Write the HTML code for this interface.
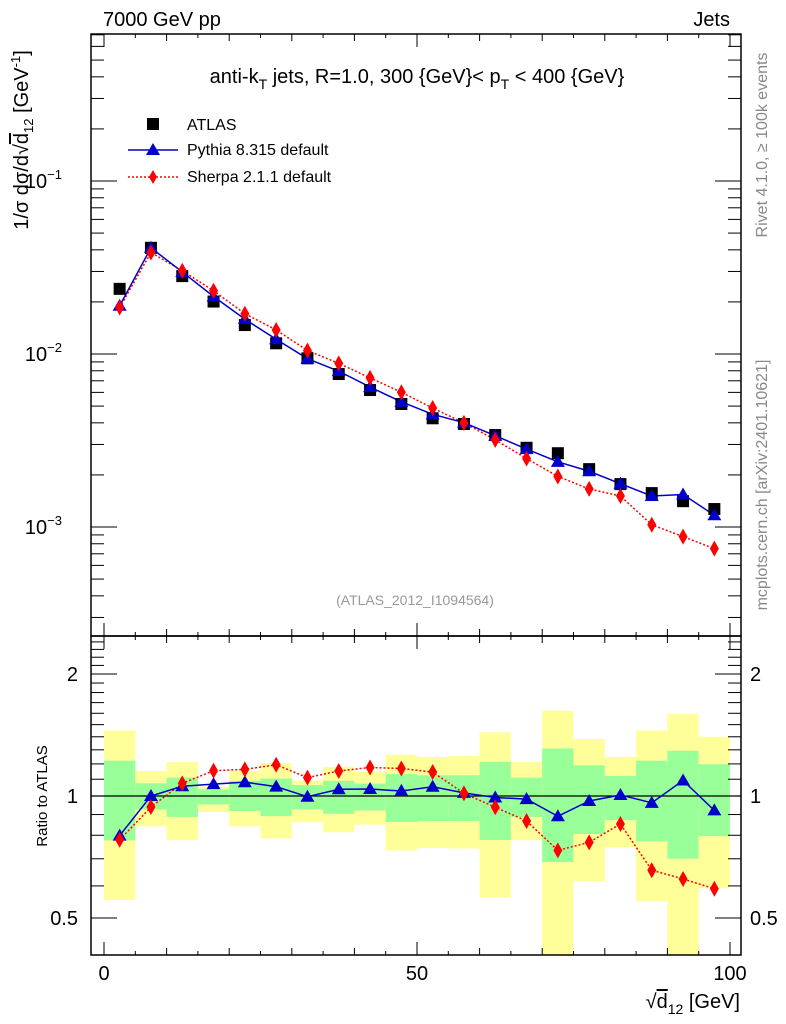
<!DOCTYPE html>
<html><head><meta charset="utf-8"><style>
html,body{margin:0;padding:0;background:#fff;}
svg{display:block;font-family:"Liberation Sans",sans-serif;}
</style></head><body>
<svg id="chart" width="786" height="1024" viewBox="0 0 786 1024">
<g id="bands"></g>
<g id="axes"></g>
<g id="series"></g>
<text x="103" y="26" font-size="20">7000 GeV pp</text>
<text x="730" y="26" font-size="20" text-anchor="end">Jets</text>
<text x="417" y="83" font-size="20" text-anchor="middle">anti-k<tspan font-size="14" dy="6">T</tspan><tspan dy="-6"> jets, R=1.0, 300 {GeV}&lt; p</tspan><tspan font-size="14" dy="6">T</tspan><tspan dy="-6"> &lt; 400 {GeV}</tspan></text>
<text x="415" y="605" font-size="14" fill="#999" text-anchor="middle">(ATLAS_2012_I1094564)</text>
<text transform="translate(767,145) rotate(-90)" font-size="16" fill="#888" text-anchor="middle">Rivet 4.1.0, ≥ 100k events</text>
<text transform="translate(767,485) rotate(-90)" font-size="16" fill="#888" text-anchor="middle">mcplots.cern.ch [arXiv:2401.10621]</text>
<text transform="translate(28,140) rotate(-90)" font-size="20" text-anchor="middle">1/σ dσ/d√<tspan text-decoration="overline">d</tspan><tspan font-size="13" dy="5">12</tspan><tspan dy="-5"> [GeV</tspan><tspan font-size="13" dy="-8">-1</tspan><tspan dy="8">]</tspan></text>
<text transform="translate(47,796) rotate(-90)" font-size="15" text-anchor="middle">Ratio to ATLAS</text>
<text x="740" y="1008" font-size="20" text-anchor="end">√<tspan text-decoration="overline">d</tspan><tspan font-size="14" dy="6">12</tspan><tspan dy="-6"> [GeV]</tspan></text>
<g>
<rect x="147" y="118" width="12" height="12" fill="#000"/>
<text x="187" y="130" font-size="16">ATLAS</text>
<line x1="128" y1="150" x2="178" y2="150" stroke="#00c" stroke-width="1.5"/>
<polygon points="153,143 160,155 146,155" fill="#00c"/>
<text x="187" y="155" font-size="16">Pythia 8.315 default</text>
<line x1="128" y1="177" x2="178" y2="177" stroke="#f00" stroke-width="1.5" stroke-dasharray="2,2"/>
<polygon points="153,170 157,177 153,184 149,177" fill="#f00"/>
<text x="187" y="182" font-size="16">Sherpa 2.1.1 default</text>
</g>
</svg>
<script>
const binCenters=[2.5,7.5,12.5,17.5,22.5,27.5,32.5,37.5,42.5,47.5,52.5,57.5,62.5,67.5,72.5,77.5,82.5,87.5,92.5,97.5];
const atlasValues=[0.0238,0.0411,0.0282,0.0201,0.0147,0.01153,0.00944,0.00766,0.00619,0.00514,0.00425,0.00394,0.0034,0.00287,0.00267,0.00216,0.00177,0.00157,0.00141,0.00127];
const pythiaValues=[0.0190,0.0411,0.0298,0.0215,0.0159,0.01216,0.0094,0.00796,0.00644,0.00529,0.00448,0.00401,0.00337,0.00282,0.00238,0.0021,0.00178,0.00151,0.00154,0.00117];
const sherpaValues=[0.01856,0.0386,0.0303,0.0232,0.0171,0.01377,0.01048,0.00883,0.00728,0.00601,0.00487,0.0040,0.00319,0.00249,0.00196,0.00166,0.00151,0.00103,0.00088,0.00075];
const yellowHi=[1.45,1.153,1.214,1.055,1.153,1.205,1.09,1.18,1.147,1.264,1.249,1.254,1.436,1.214,1.625,1.382,1.249,1.45,1.595,1.40];
const yellowLo=[0.554,0.842,0.778,0.913,0.842,0.786,0.862,0.814,0.85,0.734,0.744,0.742,0.562,0.778,0.3,0.617,0.748,0.55,0.3,0.592];
const greenHi=[1.222,1.075,1.11,1.039,1.09,1.104,1.064,1.09,1.073,1.132,1.125,1.125,1.214,1.11,1.31,1.191,1.121,1.222,1.293,1.198];
const greenLo=[0.777,0.926,0.888,0.953,0.918,0.892,0.926,0.904,0.921,0.863,0.867,0.867,0.779,0.888,0.687,0.806,0.872,0.773,0.70,0.796];
const xTicks=[0,50,100];
const mainTicks=[0.1,0.01,0.001];
const ratioTicks=[0.5,1,2];

const NS='http://www.w3.org/2000/svg';
const L=91,R=741,MT=34,MB=636,RT=636,RB=955;
function X(v){return 104+v*6.26;}
function Y(v){return 354-(Math.log10(v)+2)*173;}
function YR(v){return 796-Math.log2(v)*122;}
function mk(tag,attrs,parent){const e=document.createElementNS(NS,tag);for(const k in attrs)e.setAttribute(k,attrs[k]);parent.appendChild(e);return e;}
const axes=document.getElementById('axes'),bands=document.getElementById('bands'),series=document.getElementById('series');

binCenters.forEach((c,i)=>{
  const x0=X(c-2.5),x1=X(c+2.5);
  const yt=Math.max(RT,YR(yellowHi[i])),yb=Math.min(RB,YR(yellowLo[i]));
  const r1=mk('rect',{x:x0,y:yt,width:x1-x0,height:yb-yt,fill:'#ffff99'},bands);
  
  
  const gt=YR(greenHi[i]),gb=Math.min(RB,YR(greenLo[i]));
  const r2=mk('rect',{x:x0,y:gt,width:x1-x0,height:gb-gt,fill:'#99ff99'},bands);
  
  
});

[[MT,MB],[RT,RB]].forEach(([t,b])=>{
  const f=mk('rect',{x:L,y:t,width:R-L,height:b-t,fill:'none',stroke:'#000','stroke-width':1.5},axes);
  
  
  for(let v=0;v<=100;v+=5){
    const len=v%50===0?13:(v%10===0?7:4);
    mk('line',{x1:X(v),x2:X(v),y1:b,y2:b-len,stroke:'#000'},axes);
    mk('line',{x1:X(v),x2:X(v),y1:t,y2:t+len,stroke:'#000'},axes);
  }
});
xTicks.forEach(v=>{const t=mk('text',{x:X(v),y:980,'font-size':20,'text-anchor':'middle'},axes);t.textContent=v;
  
  });
for(let d=-4;d<=-1;d++){for(let m=1;m<10;m++){const v=m*Math.pow(10,d);const y=Y(v);if(y<MT||y>MB)continue;const len=m===1?26:13;
  mk('line',{x1:L,x2:L+len,y1:y,y2:y,stroke:'#000'},axes);mk('line',{x1:R,x2:R-len,y1:y,y2:y,stroke:'#000'},axes);}}
mainTicks.forEach(v=>{const e=Math.round(Math.log10(v));const t=mk('text',{x:62,y:Y(v)+7,'font-size':20,'text-anchor':'end'},axes);
  t.innerHTML='10<tspan font-size="13" dy="-9">'+(e<0?'−':'')+Math.abs(e)+'</tspan>';
  
  });
for(let v=0.4;v<=2.5;v+=0.1){const y=YR(v);if(y<RT||y>RB)continue;const major=Math.abs(v-0.5)<1e-6||Math.abs(v-1)<1e-6||Math.abs(v-2)<1e-6;const len=major?26:13;
  mk('line',{x1:L,x2:L+len,y1:y,y2:y,stroke:'#000'},axes);mk('line',{x1:R,x2:R-len,y1:y,y2:y,stroke:'#000'},axes);}
ratioTicks.forEach(v=>{const t=mk('text',{x:78,y:YR(v)+7,'font-size':20,'text-anchor':'end'},axes);t.textContent=v;
  
  
  const t2=mk('text',{x:750,y:YR(v)+7,'font-size':20},axes);t2.textContent=v;
  
  });
const one=mk('line',{x1:L,x2:R,y1:YR(1),y2:YR(1),stroke:'#000','stroke-width':1.2},axes);



function tri(x,y,c,p){const e=mk('polygon',{points:`${x},${y-7} ${x+7},${y+5} ${x-7},${y+5}`,fill:c},p);return e;}
function dia(x,y,c,p){const e=mk('polygon',{points:`${x},${y-8} ${x+4.5},${y} ${x},${y+8} ${x-4.5},${y}`,fill:c},p);return e;}

const pPts=binCenters.map((c,i)=>X(c)+','+Y(pythiaValues[i])).join(' ');
const sPts=binCenters.map((c,i)=>X(c)+','+Y(sherpaValues[i])).join(' ');
let pl=mk('polyline',{points:sPts,fill:'none',stroke:'#f00','stroke-width':1.5,'stroke-dasharray':'2,2'},series);


pl=mk('polyline',{points:pPts,fill:'none',stroke:'#00c','stroke-width':1.5},series);


binCenters.forEach((c,i)=>{
  const s=mk('rect',{x:X(c)-6,y:Y(atlasValues[i])-6,width:12,height:12,fill:'#000'},series);
  
  
});
binCenters.forEach((c,i)=>{
  const t=tri(X(c),Y(pythiaValues[i]),'#00c',series);
  
  
  const d=dia(X(c),Y(sherpaValues[i]),'#f00',series);
  
  
});
const pR=binCenters.map((c,i)=>X(c)+','+YR(pythiaValues[i]/atlasValues[i])).join(' ');
const sR=binCenters.map((c,i)=>X(c)+','+YR(sherpaValues[i]/atlasValues[i])).join(' ');
pl=mk('polyline',{points:sR,fill:'none',stroke:'#f00','stroke-width':1.5,'stroke-dasharray':'2,2'},series);


pl=mk('polyline',{points:pR,fill:'none',stroke:'#00c','stroke-width':1.5},series);


binCenters.forEach((c,i)=>{
  const t=tri(X(c),YR(pythiaValues[i]/atlasValues[i]),'#00c',series);
  
  
  const d=dia(X(c),YR(sherpaValues[i]/atlasValues[i]),'#f00',series);
  
  
});
</script>
</body></html>
